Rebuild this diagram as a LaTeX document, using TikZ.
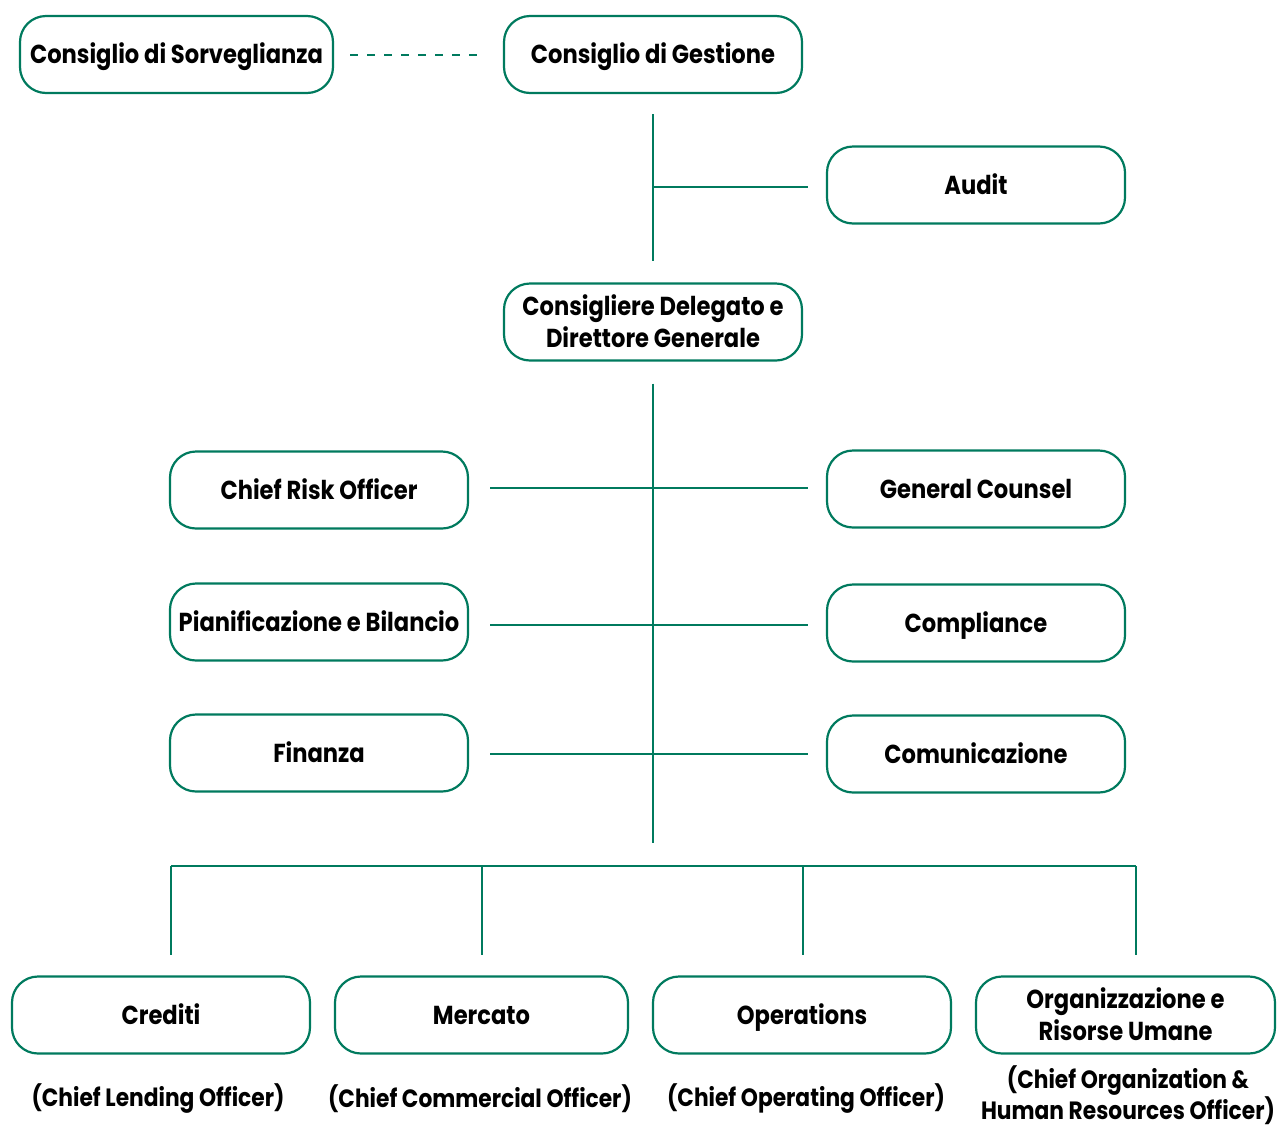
\documentclass[tikz,border=0pt]{standalone}
\usepackage{fontspec}
\setmainfont{Poppins}[FakeStretch=0.87]
\usetikzlibrary{calc}
\definecolor{grn}{RGB}{0,122,94}
\newcommand{\dnbox}[1]{\raisebox{-3pt}[\height][\depth]{\begin{tabular}{@{}c@{}}#1\end{tabular}}}
\begin{document}
\begin{tikzpicture}[x=1pt,y=-1pt,
  box/.style={draw=grn, line width=2.2pt, rounded corners=26pt, minimum width=298pt, minimum height=77pt, inner sep=0pt, font=\fontsize{26}{32}\selectfont\bfseries},
  conn/.style={draw=grn, line width=2.2pt},
  sub/.style={align=center, inner sep=0pt, font=\fontsize{25}{29}\selectfont\bfseries}]
\useasboundingbox (0,0) rectangle (1278,1128);
% top
\node[box, minimum width=313pt] (sorv) at (176.5,54.5) {\dnbox{Consiglio di Sorveglianza}};
\node[box] (gest) at (653,54.5) {\dnbox{Consiglio di Gestione}};
\node[box] (audit) at (976,185) {\dnbox{Audit}};
\node[box] (ceo) at (653,322) {\dnbox{Consigliere Delegato e\\Direttore Generale}};
% staff
\node[box] (cro) at (319,490) {\dnbox{Chief Risk Officer}};
\node[box] (gc) at (976,489) {\dnbox{General Counsel}};
\node[box] (pian) at (319,622) {\dnbox{Pianificazione e Bilancio}};
\node[box] (comp) at (976,623) {\dnbox{Compliance}};
\node[box] (fin) at (319,753) {\dnbox{Finanza}};
\node[box] (com) at (976,754) {\dnbox{Comunicazione}};
% bottom
\node[box] (cred) at (161,1015) {\dnbox{Crediti}};
\node[box, minimum width=293pt] (merc) at (481.5,1015) {\dnbox{Mercato}};
\node[box] (oper) at (802,1015) {\dnbox{Operations}};
\node[box, minimum width=299pt] (org) at (1125.5,1015) {\dnbox{Organizzazione e\\Risorse Umane}};
\node[sub] (scred) at (158,1099) {(Chief Lending Officer)};
\node[sub] (smerc) at (480,1099) {(Chief Commercial Officer)};
\node[sub] (soper) at (806,1099) {(Chief Operating Officer)};
\node[sub] (sorg) at (1128,1095) {(Chief Organization \&\\Human Resources Officer)};
% connectors
\draw[conn, line width=2pt, dash pattern=on 8pt off 9pt] ($(sorv.east)+(16,0)$) -- ($(gest.west)+(-21,0)$);
\coordinate (ja) at (653,187);
\draw[conn] ($(gest.south)+(0,20)$) -- ($(ceo.north)+(0,-21)$);
\draw[conn] (ja) -- ($(ja -| audit.west)+(-18,0)$);
\coordinate (spend) at (653,843);
\draw[conn] ($(ceo.south)+(0,22)$) -- (spend);
\draw[conn] ($(cro.east)+(21,-2)$) -- ($(gc.west)+(-18,-1)$);
\draw[conn] ($(pian.east)+(21,3)$) -- ($(comp.west)+(-18,2)$);
\draw[conn] ($(fin.east)+(21,1)$) -- ($(com.west)+(-18,0)$);
\coordinate (b1) at (171,866);
\coordinate (b2) at (482,866);
\coordinate (b3) at (803,866);
\coordinate (b4) at (1136,866);
\draw[conn] (b1) -- (b4);
\draw[conn] (b1) -- ($(b1 |- cred.north)+(0,-20)$);
\draw[conn] (b2) -- ($(b2 |- merc.north)+(0,-20)$);
\draw[conn] (b3) -- ($(b3 |- oper.north)+(0,-20)$);
\draw[conn] (b4) -- ($(b4 |- org.north)+(0,-20)$);
\end{tikzpicture}
\end{document}
